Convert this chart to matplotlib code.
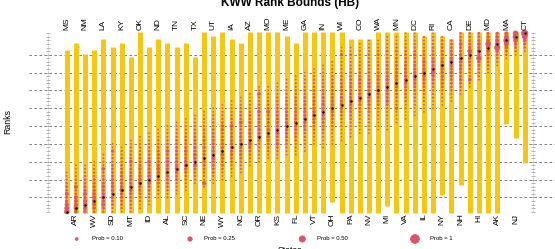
import matplotlib
matplotlib.use("Agg")
import matplotlib.pyplot as plt
import numpy as np

plt.rcParams["font.family"] = ["Liberation Sans", "DejaVu Sans"]

# states in plotting order (worst estimated rank on the left)
states = ["MS", "AR", "NM", "WV", "LA", "SD", "KY", "MT", "OK", "ID", "ND", "AL", "TN",
          "SC", "TX", "NE", "UT", "WY", "IA", "NC", "AZ", "OR", "MO", "KS", "ME", "FL",
          "GA", "VT", "IN", "OH", "WI", "PA", "CO", "NV", "WA", "MI", "MN", "VA", "DC",
          "IL", "RI", "NY", "CA", "NH", "DE", "HI", "MD", "AK", "MA", "NJ", "CT"]
est_rank = [51, 50, 49, 48, 47, 46, 45, 44, 43, 42, 41, 40, 39, 38, 37, 36, 35, 34, 33,
            32, 31, 30, 29, 28, 27, 26, 25, 24, 23, 22, 21, 20, 19, 18, 17, 16, 15, 14,
            13, 12, 11, 10, 9, 8, 7, 6, 5, 4, 3, 2, 1]
rank_lo = [6, 4, 7, 6, 3, 5, 4, 8, 1, 5, 3, 4, 5, 4, 8, 1, 2, 1, 3, 4, 1, 1, 1, 1, 2, 4,
           1, 1, 1, 1, 1, 3, 3, 3, 1, 1, 1, 1, 1, 2, 1, 2, 3, 1, 1, 1, 1, 1, 1, 1, 1]
rank_hi = [51, 51, 51, 51, 51, 51, 51, 51, 51, 51, 51, 51, 51, 51, 51, 51, 51, 51, 51,
           51, 51, 51, 51, 51, 51, 51, 51, 51, 51, 48, 51, 51, 51, 51, 51, 49, 51, 51,
           51, 51, 51, 46, 51, 43, 51, 51, 51, 51, 26, 30, 37]

# posterior rank probabilities: first rank shown, then P(rank) for consecutive ranks
dot_start = [40, 38, 38, 37, 35, 32, 33, 31, 30, 29, 28, 27, 26, 25, 24, 23, 22, 21, 20,
             19, 18, 16, 16, 15, 14, 13, 12, 11, 10, 9, 5, 5, 4, 3, 3, 2, 2, 1, 1, 2, 1,
             2, 3, 1, 1, 1, 1, 1, 1, 1, 1]
dot_prob = [
    [.01, .01, .02, .03, .05, .04, .12, .05, .07, .15, .20, .25],
    [.01, .01, .02, .02, .03, .03, .12, .04, .05, .13, .12, .14, .18, .10],
    [.01, .02, .02, .03, .04, .05, .06, .08, .12, .07, .14, .16, .12, .08],
    [.01, .01, .02, .03, .03, .05, .06, .07, .08, .11, .13, .16, .12, .08, .04],
    [.01, .01, .02, .02, .09, .03, .04, .05, .06, .10, .07, .08, .11, .09, .13, .06, .03],
    [.01, .01, .08, .02, .03, .03, .04, .05, .05, .06, .07, .08, .09, .10, .09, .07, .05, .04, .02, .01],
    [.01, .02, .02, .03, .03, .04, .05, .06, .07, .06, .08, .09, .16, .08, .07, .05, .04, .03, .01],
    [.01, .01, .02, .02, .03, .04, .09, .04, .05, .06, .07, .08, .07, .10, .09, .07, .05, .04, .03, .02, .01],
    [.01, .01, .02, .03, .03, .04, .05, .05, .06, .07, .06, .08, .10, .12, .08, .06, .05, .04, .02, .01, .01],
    [.01, .01, .02, .02, .03, .04, .04, .05, .10, .06, .07, .08, .09, .10, .08, .06, .05, .04, .03, .01, .01],
    [.01, .01, .02, .03, .03, .04, .05, .06, .06, .07, .08, .12, .09, .10, .07, .06, .04, .03, .02, .01],
    [.01, .01, .02, .02, .03, .04, .04, .09, .05, .06, .10, .07, .08, .09, .07, .06, .05, .04, .03, .02, .02],
    [.01, .01, .02, .03, .03, .04, .05, .05, .06, .07, .06, .08, .09, .13, .08, .06, .05, .03, .02, .02, .01],
    [.01, .01, .02, .02, .03, .04, .05, .05, .06, .09, .06, .07, .10, .12, .09, .06, .04, .03, .02, .02, .01],
    [.01, .01, .02, .03, .03, .04, .05, .06, .06, .07, .07, .10, .08, .09, .12, .06, .04, .03, .02, .01],
    [.01, .01, .02, .02, .03, .04, .04, .05, .06, .06, .07, .06, .07, .08, .08, .06, .05, .04, .03, .02, .14, .02],
    [.01, .01, .02, .02, .03, .03, .04, .05, .05, .06, .07, .06, .08, .09, .11, .08, .06, .05, .04, .02, .01, .01],
    [.01, .01, .02, .02, .03, .04, .08, .07, .04, .05, .06, .07, .06, .09, .10, .07, .06, .05, .03, .02, .01, .01],
    [.01, .01, .02, .02, .03, .04, .04, .12, .05, .05, .06, .07, .08, .09, .08, .07, .05, .04, .03, .02, .01, .01],
    [.01, .01, .02, .03, .03, .04, .04, .11, .05, .05, .06, .07, .06, .09, .08, .06, .07, .04, .03, .02, .02, .01],
    [.01, .01, .02, .02, .03, .04, .05, .05, .06, .06, .07, .08, .07, .09, .12, .07, .05, .04, .03, .02, .01],
    [.01, .02, .08, .03, .03, .04, .04, .09, .05, .06, .06, .07, .08, .07, .09, .06, .04, .03, .02, .02, .01, .01],
    [.01, .01, .02, .02, .03, .04, .05, .10, .05, .06, .07, .06, .08, .10, .08, .07, .05, .04, .03, .02, .01],
    [.01, .01, .02, .02, .03, .04, .04, .05, .06, .06, .07, .08, .07, .09, .10, .07, .05, .09, .04, .03, .02, .01],
    [.01, .01, .02, .02, .03, .03, .04, .05, .06, .06, .07, .07, .08, .11, .08, .07, .06, .05, .04, .02, .01, .01],
    [.01, .01, .02, .02, .03, .03, .04, .05, .05, .06, .07, .06, .08, .10, .08, .07, .06, .05, .04, .03, .02, .01, .01],
    [.01, .01, .02, .02, .03, .04, .04, .05, .06, .06, .07, .08, .07, .10, .09, .07, .05, .04, .03, .02, .02, .01, .01],
    [.01, .01, .02, .03, .03, .04, .05, .05, .06, .07, .06, .08, .09, .11, .08, .07, .05, .04, .03, .02, .01, .01],
    [.01, .01, .02, .02, .03, .03, .04, .05, .05, .06, .07, .09, .07, .10, .08, .07, .06, .05, .04, .03, .02, .01, .01, .01],
    [.01, .01, .02, .02, .03, .04, .04, .05, .06, .06, .07, .08, .07, .11, .08, .06, .05, .04, .03, .02, .02, .01, .01, .01],
    [.01, .02, .07, .01, .02, .02, .03, .03, .04, .05, .05, .06, .07, .06, .08, .08, .10, .07, .05, .04, .03, .02, .02, .01, .01, .01, .01],
    [.01, .01, .04, .01, .02, .02, .03, .04, .04, .05, .06, .07, .06, .08, .07, .11, .08, .07, .05, .04, .03, .02, .02, .01, .01, .01],
    [.01, .01, .02, .03, .02, .03, .03, .04, .05, .05, .08, .07, .06, .08, .07, .11, .07, .06, .05, .04, .03, .02, .02, .01, .01, .01],
    [.01, .01, .02, .02, .04, .02, .03, .03, .04, .05, .05, .06, .07, .08, .07, .11, .08, .07, .06, .05, .04, .03, .02, .02, .01, .01, .01],
    [.01, .01, .02, .02, .05, .02, .03, .04, .04, .05, .06, .07, .06, .08, .12, .08, .07, .05, .04, .03, .02, .02, .01, .01, .01, .01],
    [.01, .01, .02, .02, .04, .03, .03, .04, .05, .05, .06, .07, .08, .07, .11, .08, .07, .06, .09, .04, .03, .02, .02, .01, .01, .01, .01],
    [.01, .01, .02, .03, .04, .03, .04, .05, .05, .06, .07, .08, .07, .11, .08, .06, .05, .04, .03, .03, .08, .02, .01, .01, .01],
    [.01, .01, .02, .02, .03, .04, .05, .05, .06, .06, .07, .08, .09, .11, .09, .07, .06, .05, .04, .03, .02, .02, .01, .01, .01],
    [.01, .01, .02, .03, .03, .04, .08, .04, .05, .06, .07, .08, .12, .09, .07, .06, .05, .04, .03, .02, .02, .01, .01, .01],
    [.02, .02, .03, .03, .04, .05, .05, .09, .06, .08, .13, .09, .07, .06, .05, .04, .03, .02, .02, .01, .01, .01],
    [.01, .02, .02, .03, .04, .04, .05, .06, .09, .07, .11, .16, .07, .06, .05, .04, .03, .02, .02, .01, .01, .01],
    [.02, .03, .04, .04, .05, .06, .07, .08, .12, .08, .09, .07, .06, .06, .05, .03, .02, .02, .01, .01],
    [.03, .04, .05, .06, .07, .09, .12, .08, .07, .10, .06, .05, .05, .04, .03, .02, .01, .01],
    [.03, .03, .04, .10, .05, .06, .07, .12, .09, .06, .09, .05, .05, .08, .04, .03, .02, .01],
    [.03, .04, .05, .06, .07, .20, .14, .08, .06, .05, .04, .03, .03, .10, .02, .01],
    [.04, .05, .06, .09, .07, .14, .08, .24, .07, .05, .04, .03, .02, .01],
    [.06, .08, .10, .28, .16, .10, .07, .06, .04, .03, .02, .01],
    [.07, .09, .12, .16, .36, .08, .05, .04, .02, .01],
    [.12, .16, .36, .18, .09, .05, .03, .01],
    [.30, .34, .18, .09, .05, .03, .01],
    [.52, .26, .12, .06, .03, .01],
]

legend_probs = [0.10, 0.25, 0.50, 1]
legend_labels = ["Prob = 0.10", "Prob = 0.25", "Prob = 0.50", "Prob = 1"]
grid_ranks = [7, 12, 17, 22, 27, 32, 37, 42, 47]

YELLOW = "#F5C710"
PINK = "#DF536B"
W, H = 555, 249

# pixel layout of the reference: first state column and rank 1 position
X0, DX = 66.7, 9.16
Y0, DY = 33.3, 3.568
SCALE = 40  # marker area (pt^2) for prob = 1


def px_x(p):
    return (p - X0) / DX


def px_y(p):
    return 1 + (p - Y0) / DY


fig = plt.figure(figsize=(W / 100, H / 100), dpi=100)
ax = fig.add_axes([0, 0, 1, 1])
ax.set_xlim(px_x(0), px_x(W))
ax.set_ylim(px_y(H), px_y(0))
ax.axis("off")

x = np.arange(len(states))

# grid
for r in grid_ranks:
    ax.plot([px_x(29), px_x(W)], [r, r], color="#666666", lw=0.6,
            ls=(0, (3, 3)), zorder=1)
for p in (48, 533):
    ax.plot([px_x(p)] * 2, [1, 51], color="#aaaaaa", lw=0.5, ls=(0, (1, 1)), zorder=1)
    ax.plot([px_x(p)] * 51, np.arange(1, 52), ls="none", marker="_", ms=3,
            mew=0.5, color="#999999", zorder=1)

# rank bounds and probabilities (solid circles with a thin rim, like R's pch 19)
for i in x:
    ax.plot([i, i], [rank_lo[i] - 0.3, rank_hi[i] + 0.4], color=YELLOW, lw=3.6,
            solid_capstyle="butt", zorder=2)
    ranks = dot_start[i] + np.arange(len(dot_prob[i]))
    ax.scatter(np.full(len(ranks), i), ranks, s=SCALE * np.array(dot_prob[i]),
               color=PINK, edgecolors=PINK, linewidths=0.55, zorder=3)
ax.scatter(x, est_rank, s=3, color="black", lw=0, zorder=4)

# state labels, alternating top / bottom
for i, name in enumerate(states):
    if i % 2 == 0:
        ax.annotate(name, (i, 1), xytext=(0, 3.3), textcoords="offset pixels",
                    rotation=90, ha="center", va="bottom", fontsize=6)
    else:
        ax.annotate(name, (i, 51), xytext=(0, -1.8), textcoords="offset pixels",
                    rotation=90, ha="center", va="top", fontsize=6)

fig.text(290 / W, 1 - 5.7 / H, "KWW Rank Bounds (HB)", ha="center", va="baseline",
         fontsize=8.5, fontweight="bold")
fig.text(8 / W, 1 - 121 / H, "Ranks", rotation=90, ha="center", va="center", fontsize=6.3)
fig.text(290 / W, 1 - 246 / H, "States", ha="center", va="top", fontsize=6.3)

# legend
leg_mx = [76.7, 190, 302.3, 415]
leg_tx = [91.7, 204, 316.7, 430]
ax.scatter([px_x(p) for p in leg_mx], [px_y(239)] * 4, s=SCALE * np.array(legend_probs),
           color=PINK, edgecolors=PINK, linewidths=0.55, clip_on=False)
for p, lab in zip(leg_tx, legend_labels):
    fig.text(p / W, 1 - 239 / H, lab, ha="left", va="center", fontsize=4.3)

fig.savefig("out.png", dpi=100)
